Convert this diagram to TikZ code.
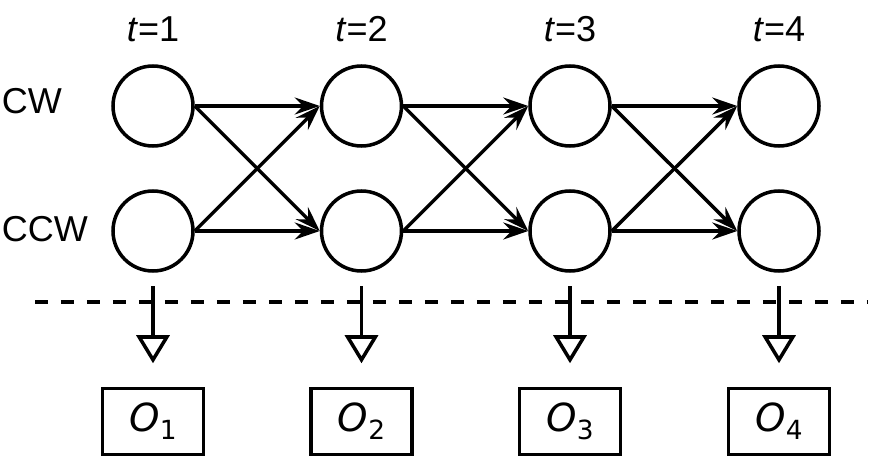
\documentclass[tikz,border=0pt]{standalone}
\usepackage{fontspec}
\setmainfont{Liberation Sans}
\newfontfamily\obsfont{DejaVu Sans}
\usepackage{tikz}
\usetikzlibrary{positioning,arrows.meta}

\newcommand{\obslabel}[1]{{\obsfont\fontsize{22}{24}\selectfont\itshape O}\raisebox{-0.16cm}{\obsfont\fontsize{15}{16}\selectfont #1}}

\begin{document}
\begin{tikzpicture}[
  font=\fontsize{20.5}{24}\selectfont,
  line width=2pt,
  stnode/.style={circle, draw=black, minimum size=1.6cm, inner sep=0pt},
  obsbox/.style={rectangle, draw=black, minimum width=2.02cm, minimum height=1.32cm, inner sep=0pt},
  transmap/.style={-{Stealth[length=0.5cm, width=0.34cm, inset=0.17cm]}},
  emitmap/.style={-{Triangle[open, length=0.56cm, width=0.66cm]}, shorten <=0.27cm, shorten >=0.47cm}
]
  \useasboundingbox (0,0) rectangle (17.46,-9.24);
  % time labels
  \node (t1) at (3.06,-0.59) {\textit{t}=1};
  \node (t2) at (7.23,-0.59) {\textit{t}=2};
  \node (t3) at (11.40,-0.59) {\textit{t}=3};
  \node (t4) at (15.58,-0.59) {\textit{t}=4};
  % row labels
  \node[anchor=west, inner sep=0pt] (lcw) at (0,-2.03) {CW};
  \node[anchor=west, inner sep=0pt] (lccw) at (0,-4.58) {CCW};
  % hidden states
  \node[stnode] (a1) at (3.06,-2.12) {};
  \node[stnode] (a2) at (7.23,-2.12) {};
  \node[stnode] (a3) at (11.40,-2.12) {};
  \node[stnode] (a4) at (15.58,-2.12) {};
  \node[stnode] (b1) at (3.06,-4.62) {};
  \node[stnode] (b2) at (7.23,-4.62) {};
  \node[stnode] (b3) at (11.40,-4.62) {};
  \node[stnode] (b4) at (15.58,-4.62) {};
  % transitions
  \draw[transmap] (a1.east) -- (a2.west);
  \draw[transmap] (a1.east) -- (b2.west);
  \draw[transmap] (b1.east) -- (a2.west);
  \draw[transmap] (b1.east) -- (b2.west);
  \draw[transmap] (a2.east) -- (a3.west);
  \draw[transmap] (a2.east) -- (b3.west);
  \draw[transmap] (b2.east) -- (a3.west);
  \draw[transmap] (b2.east) -- (b3.west);
  \draw[transmap] (a3.east) -- (a4.west);
  \draw[transmap] (a3.east) -- (b4.west);
  \draw[transmap] (b3.east) -- (a4.west);
  \draw[transmap] (b3.east) -- (b4.west);
  % observations
  \node[obsbox] (o1) at (3.06,-8.43) {\obslabel{1}};
  \node[obsbox] (o2) at (7.23,-8.43) {\obslabel{2}};
  \node[obsbox] (o3) at (11.40,-8.43) {\obslabel{3}};
  \node[obsbox] (o4) at (15.58,-8.43) {\obslabel{4}};
  \coordinate (dl) at (0.7,-6.04);
  \coordinate (dr) at (17.36,-6.04);
  \draw[dash pattern=on 0.26cm off 0.26cm] (dl) -- (dr);
  \draw[emitmap] (b1.south) -- (o1.north);
  \draw[emitmap] (b2.south) -- (o2.north);
  \draw[emitmap] (b3.south) -- (o3.north);
  \draw[emitmap] (b4.south) -- (o4.north);
\end{tikzpicture}
\end{document}
